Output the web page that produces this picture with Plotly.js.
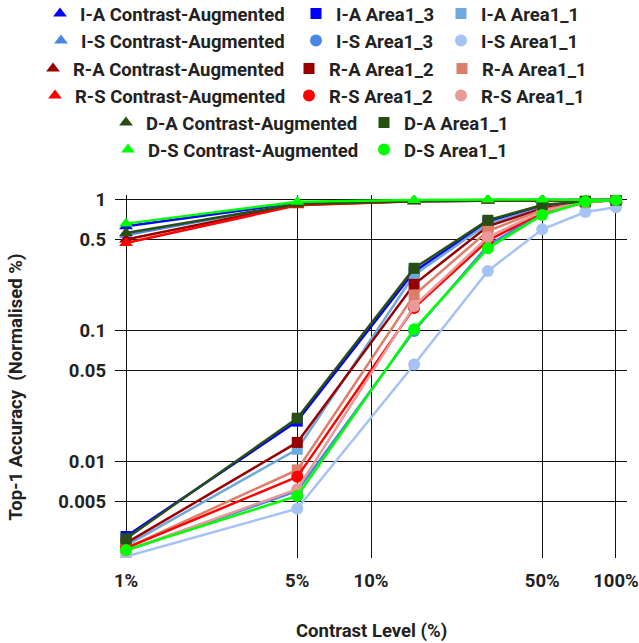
<!DOCTYPE html>
<html>
<head>
<meta charset="utf-8">
<script src="https://cdn.plot.ly/plotly-3.0.1.min.js"></script>
<style>html,body{margin:0;padding:0;background:#fff;}#chart{width:639px;height:643px;}</style>
</head>
<body>
<div id="chart"></div>
<script>
// Contrast levels (%)
const contrast = [1, 5, 15, 30, 50, 75, 100];

// Tick labels
const xTickVals = [1, 5, 10, 50, 100];
const xTickText = ['1%', '5%', '10%', '50%', '100%'];
const yTickVals = [0.005, 0.01, 0.05, 0.1, 0.5, 1];
const yTickText = ['0.005', '0.01', '0.05', '0.1', '0.5', '1'];

// Series (normalised top-1 accuracy)
const iaContrastAug = [0.63, 0.95, 0.99, 1.0, 1.0, 1.0, 1.0];
const iaArea1_3     = [0.0027, 0.0205, 0.284, 0.68, 0.88, 0.97, 1.0];
const iaArea1_1     = [0.0023, 0.0125, 0.268, 0.66, 0.87, 0.97, 1.0];
const isContrastAug = [0.54, 0.94, 0.99, 1.0, 1.0, 1.0, 1.0];
const isArea1_3     = [0.0021, 0.0060, 0.100, 0.45, 0.80, 0.96, 1.0];
const isArea1_1     = [0.0019, 0.0044, 0.0555, 0.287, 0.597, 0.81, 0.88];
const raContrastAug = [0.50, 0.92, 0.98, 0.99, 1.0, 1.0, 1.0];
const raArea1_2     = [0.0024, 0.0141, 0.227, 0.63, 0.86, 0.97, 1.0];
const raArea1_1     = [0.0022, 0.0087, 0.188, 0.58, 0.84, 0.97, 1.0];
const rsContrastAug = [0.47, 0.91, 0.98, 0.99, 1.0, 1.0, 1.0];
const rsArea1_2     = [0.0022, 0.0077, 0.150, 0.49, 0.80, 0.96, 1.0];
const rsArea1_1     = [0.0021, 0.0062, 0.155, 0.52, 0.82, 0.96, 1.0];
const daContrastAug = [0.56, 0.93, 0.98, 0.99, 1.0, 1.0, 1.0];
const daArea1_1     = [0.0026, 0.0216, 0.301, 0.70, 0.916, 0.98, 1.0];
const dsContrastAug = [0.66, 0.97, 1.0, 1.01, 1.01, 1.0, 1.0];
const dsArea1_1     = [0.00213, 0.0055, 0.103, 0.428, 0.768, 0.97, 1.0];

const seriesNames = [
  'I-A Contrast-Augmented', 'I-A Area1_3', 'I-A Area1_1',
  'I-S Contrast-Augmented', 'I-S Area1_3', 'I-S Area1_1',
  'R-A Contrast-Augmented', 'R-A Area1_2', 'R-A Area1_1',
  'R-S Contrast-Augmented', 'R-S Area1_2', 'R-S Area1_1',
  'D-A Contrast-Augmented', 'D-A Area1_1',
  'D-S Contrast-Augmented', 'D-S Area1_1'
];
const seriesValues = [
  iaContrastAug, iaArea1_3, iaArea1_1,
  isContrastAug, isArea1_3, isArea1_1,
  raContrastAug, raArea1_2, raArea1_1,
  rsContrastAug, rsArea1_2, rsArea1_1,
  daContrastAug, daArea1_1,
  dsContrastAug, dsArea1_1
];

// Styles
const colors = ['#0000ff','#0000ff','#6fa8dc','#4a86e8','#4a86e8','#a4c2f4',
                '#980000','#980000','#dd7e6b','#ff0000','#ff0000','#ea9999',
                '#274e13','#274e13','#00ff00','#00ff00'];
const symbols = ['triangle-up','square','square','triangle-up','circle','circle',
                 'triangle-up','square','square','triangle-up','circle','circle',
                 'triangle-up','square','triangle-up','circle'];
const markerSize = {'triangle-up': 12, 'square': 11, 'circle': 12};

// legend entry placement (marker centre x, row centre y), in page pixels
const legendMarkerX = [60, 316, 461,  61, 316, 461,  53, 309, 462,  55, 309, 461,  126, 384,  128, 384];
const legendRowY    = [14, 14, 14,    41, 41, 41,    69, 69, 69,    96, 96, 96,    123, 123,  150, 150];

const W = 639, H = 643;
const FONT = {family: 'Roboto, Arial, sans-serif', size: 18.5, color: '#222', weight: 700};

const traces = [];
seriesNames.forEach((nm, i) => {
  traces.push({
    x: contrast, y: seriesValues[i], name: nm, type: 'scatter', mode: 'lines+markers',
    line: {color: colors[i], width: 2.5},
    marker: {color: colors[i], symbol: symbols[i], size: markerSize[symbols[i]]},
    showlegend: false, hoverinfo: 'x+y+name'
  });
});
// legend-only entries (marker only, as in the reference), one legend box each
const legendKeys = seriesNames.map((_, i) => i === 0 ? 'legend' : 'legend' + (i + 1));
seriesNames.forEach((nm, i) => {
  traces.push({
    x: [null], y: [null], name: nm, type: 'scatter', mode: 'markers',
    marker: {color: colors[i], symbol: symbols[i], size: markerSize[symbols[i]]},
    legend: legendKeys[i], showlegend: true, hoverinfo: 'skip'
  });
});

const layout = {
  width: W, height: H,
  margin: {l: 115, r: 12, t: 195, b: 85, pad: 0},
  paper_bgcolor: '#fff', plot_bgcolor: '#fff',
  font: FONT,
  showlegend: true,
  xaxis: {
    type: 'log', range: [-0.045, 2.045],
    tickvals: xTickVals, ticktext: xTickText,
    showgrid: true, gridcolor: '#111', gridwidth: 1,
    zeroline: false, showline: false, ticks: '',
    ticklabelstandoff: 9, tickfont: FONT, fixedrange: true
  },
  yaxis: {
    type: 'log', range: [-2.733, 0.038],
    tickvals: yTickVals, ticktext: yTickText,
    showgrid: true, gridcolor: '#111', gridwidth: 1,
    zeroline: false, showline: false, ticks: '',
    ticklabelstandoff: 8, tickfont: FONT, fixedrange: true
  },
  annotations: [
    {text: 'Contrast Level (%)', xref: 'paper', yref: 'paper', x: 0.5, y: -0.2,
     xanchor: 'center', yanchor: 'middle', showarrow: false, font: FONT},
    {text: 'Top-1 Accuracy  (Normalised %)', xref: 'paper', yref: 'paper',
     x: -0.193, y: 0.47, xanchor: 'center', yanchor: 'middle', textangle: -90,
     showarrow: false, font: FONT}
  ]
};
legendKeys.forEach((k, i) => {
  layout[k] = {
    orientation: 'h', xref: 'container', yref: 'container',
    x: (legendMarkerX[i] - 20) / W, xanchor: 'left',
    y: 1 - legendRowY[i] / H, yanchor: 'middle',
    bgcolor: 'rgba(0,0,0,0)', borderwidth: 0, font: FONT, itemclick: false
  };
});

Plotly.newPlot('chart', traces, layout, {displayModeBar: false, staticPlot: true});
</script>
</body>
</html>
